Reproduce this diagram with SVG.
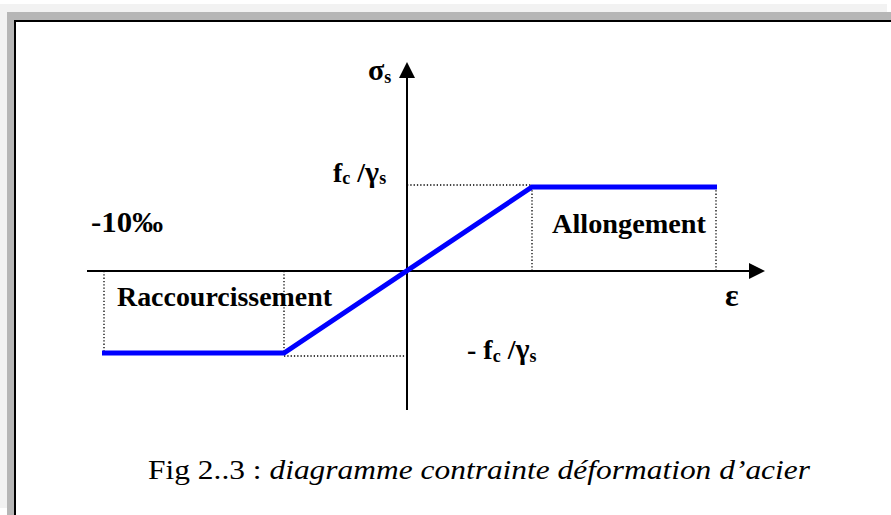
<svg xmlns="http://www.w3.org/2000/svg" width="891" height="515" viewBox="0 0 891 515">
  <style>
    .axis { stroke: #000; stroke-width: 2; fill: none; }
    .dot { stroke: #000; stroke-width: 1.3; stroke-dasharray: 1.3 2; fill: none; }
    .curve { stroke: #0000ff; stroke-width: 5; fill: none; stroke-linejoin: miter; }
    .lbl { font-family: "Liberation Serif", "Times New Roman", serif; font-weight: bold; fill: #000; }
    .cap { font-family: "Liberation Serif", "Times New Roman", serif; fill: #000; }
  </style>
  <defs>
    <marker id="arrow" viewBox="0 0 16 16" refX="0" refY="8" markerWidth="16" markerHeight="16" markerUnits="userSpaceOnUse" orient="auto">
      <path d="M0,0 L16,8 L0,16 Z" fill="#000"/>
    </marker>
  </defs>

  <g id="frame">
    <rect x="0" y="0" width="891" height="515" fill="#ffffff"/>
    <rect x="0" y="4" width="887" height="8" fill="#f2f2f2"/>
    <rect x="0" y="4" width="7" height="504" fill="#f2f2f2"/>
    <rect x="7" y="12" width="884" height="8" fill="#b6b6b6"/>
    <rect x="7" y="12" width="7" height="503" fill="#b6b6b6"/>
    <rect x="14" y="20" width="877" height="2" fill="#000"/>
    <rect x="14" y="20" width="2" height="495" fill="#000"/>
  </g>

  <g id="connectors">
    <line class="axis" x1="407" y1="410" x2="407" y2="78" marker-end="url(#arrow)"/>
    <line class="axis" x1="87" y1="271" x2="749" y2="271" marker-end="url(#arrow)"/>
    <line class="dot" x1="407" y1="185" x2="532" y2="185"/>
    <line class="dot" x1="532" y1="187" x2="532" y2="271"/>
    <line class="dot" x1="716" y1="187" x2="716" y2="271"/>
    <line class="dot" x1="104" y1="271" x2="104" y2="353"/>
    <line class="dot" x1="284" y1="271" x2="284" y2="353"/>
    <line class="dot" x1="284" y1="356" x2="407" y2="356"/>
  </g>

  <g id="curve">
    <polyline class="curve" points="102,353 284,353 532,187 717,187"/>
  </g>

  <g id="label-sigma">
    <text class="lbl" x="368" y="80" font-size="30">σ<tspan font-size="18" dy="3">s</tspan></text>
  </g>
  <g id="label-fc-pos">
    <text class="lbl" x="333" y="182" font-size="28">f<tspan font-size="18" dy="2">c</tspan><tspan dy="-2"> /</tspan><tspan font-size="30">γ</tspan><tspan font-size="18" dy="2">s</tspan></text>
  </g>
  <g id="label-fc-neg">
    <text class="lbl" x="467" y="359" font-size="28">- f<tspan font-size="18" dy="3">c</tspan><tspan dy="-3"> /</tspan><tspan font-size="30">γ</tspan><tspan font-size="18" dy="3">s</tspan></text>
  </g>
  <g id="label-10">
    <text class="lbl" x="91" y="232" font-size="29" textLength="72" lengthAdjust="spacingAndGlyphs">-10‰</text>
  </g>
  <g id="label-allongement">
    <text class="lbl" x="552" y="233" font-size="28" textLength="154" lengthAdjust="spacingAndGlyphs">Allongement</text>
  </g>
  <g id="label-raccourcissement">
    <text class="lbl" x="117" y="306" font-size="28" textLength="215" lengthAdjust="spacingAndGlyphs">Raccourcissement</text>
  </g>
  <g id="label-epsilon">
    <text class="lbl" x="725" y="306" font-size="32">ε</text>
  </g>
  <g id="caption">
    <text class="cap" x="148" y="479" font-size="27" textLength="662" lengthAdjust="spacingAndGlyphs">Fig 2..3 : <tspan font-style="italic">diagramme contrainte déformation d’acier</tspan></text>
  </g>
</svg>
